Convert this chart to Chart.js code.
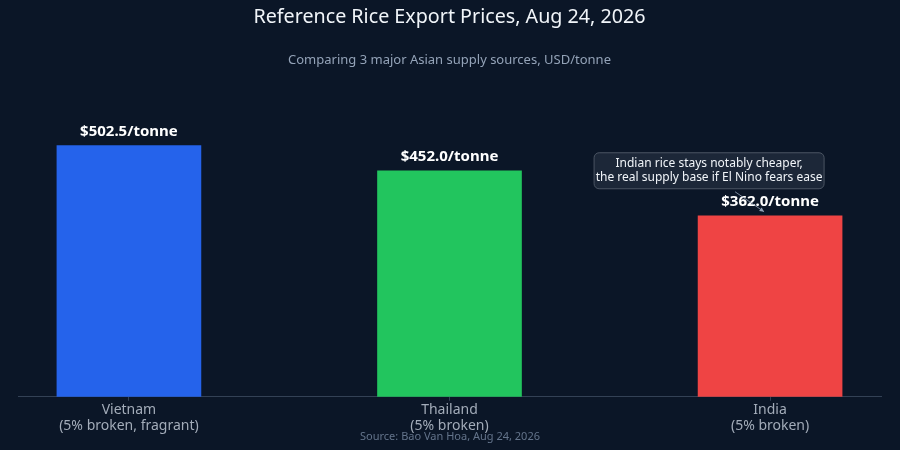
<!DOCTYPE html>
<html lang="en">
<head>
    <meta charset="utf-8">
    <title>Reference Rice Export Prices</title>
    <script src="https://cdn.jsdelivr.net/npm/chart.js@4.4.0/dist/chart.umd.min.js"></script>
    <style>
        html, body { margin: 0; padding: 0; background: #0b1627; }
        #wrap { width: 900px; height: 450px; }
    </style>
</head>
<body>
    <div id="wrap"><canvas id="chart" width="900" height="450"></canvas></div>
    <script>
        const origins = ['Vietnam', 'Thailand', 'India'];
        const grades = ['(5% broken, fragrant)', '(5% broken)', '(5% broken)'];
        const prices = [502.5, 452.0, 362.0];
        const barColors = ['#2563eb', '#22c55e', '#ef4444'];
        const noteLines = ['Indian rice stays notably cheaper,', 'the real supply base if El Nino fears ease'];
        const sourceText = 'Source: Bao Van Hoa, Aug 24, 2026';

        const FONT = "'Noto Sans', 'DejaVu Sans', sans-serif";

        // value labels + annotation + source line
        const extras = {
            id: 'extras',
            afterDatasetsDraw(chart) {
                const ctx = chart.ctx;
                const meta = chart.getDatasetMeta(0);
                ctx.save();
                ctx.fillStyle = '#ffffff';
                ctx.font = 'bold 15px ' + FONT;
                ctx.textAlign = 'center';
                ctx.textBaseline = 'middle';
                meta.data.forEach(function (bar, i) {
                    ctx.fillText('$' + prices[i].toFixed(1) + '/tonne', bar.x, bar.y - 14);
                });
                ctx.restore();
            },
            afterDraw(chart) {
                const ctx = chart.ctx;
                const bar = chart.getDatasetMeta(0).data[2];
                const cx = bar.x - 61, top = bar.y - 63, w = 230, h = 36;
                ctx.save();
                // arrow
                ctx.strokeStyle = '#94a3b8';
                ctx.fillStyle = '#94a3b8';
                ctx.lineWidth = 0.8;
                const ax0 = bar.x - 35, ay0 = top + h + 3, ax1 = bar.x - 6, ay1 = bar.y - 4;
                ctx.beginPath();
                ctx.moveTo(ax0, ay0);
                ctx.lineTo(ax1, ay1);
                ctx.stroke();
                const ang = Math.atan2(ay1 - ay0, ax1 - ax0);
                ctx.beginPath();
                ctx.moveTo(ax1, ay1);
                ctx.lineTo(ax1 - 5 * Math.cos(ang - 0.45), ay1 - 5 * Math.sin(ang - 0.45));
                ctx.lineTo(ax1 - 5 * Math.cos(ang + 0.45), ay1 - 5 * Math.sin(ang + 0.45));
                ctx.closePath();
                ctx.fill();
                // box
                ctx.fillStyle = '#1c2738';
                ctx.strokeStyle = '#4b5563';
                ctx.lineWidth = 1;
                ctx.beginPath();
                ctx.roundRect(cx - w / 2, top, w, h, 5);
                ctx.fill();
                ctx.stroke();
                ctx.fillStyle = '#f1f5f9';
                ctx.font = '12px ' + FONT;
                ctx.textAlign = 'center';
                ctx.textBaseline = 'middle';
                ctx.fillText(noteLines[0], cx, top + 11);
                ctx.fillText(noteLines[1], cx, top + 25);
                // source
                ctx.fillStyle = '#64748b';
                ctx.font = '11px ' + FONT;
                ctx.fillText(sourceText, 450, 437);
                ctx.restore();
            }
        };

        const ctx = document.getElementById('chart').getContext('2d');
        const myChart = new Chart(ctx, {
            type: 'bar',
            data: {
                datasets: [{
                    data: prices.map(function (p, i) { return { x: i, y: p }; }),
                    backgroundColor: barColors,
                    borderWidth: 0,
                    barThickness: 144
                }]
            },
            options: {
                responsive: false,
                animation: false,
                layout: { padding: { left: 18, right: 19, top: 0, bottom: 15 } },
                plugins: {
                    legend: { display: false },
                    tooltip: { enabled: false },
                    title: {
                        display: true,
                        text: 'Reference Rice Export Prices, Aug 24, 2026',
                        color: '#f1f5f9',
                        font: { family: FONT, size: 19.7, weight: 'normal' },
                        padding: { top: 6, bottom: 23 }
                    },
                    subtitle: {
                        display: true,
                        text: 'Comparing 3 major Asian supply sources, USD/tonne',
                        color: '#94a3b8',
                        font: { family: FONT, size: 13 },
                        padding: { top: 0, bottom: 31 }
                    }
                },
                scales: {
                    x: {
                        type: 'linear',
                        offset: false,
                        min: -0.346,
                        max: 2.346,
                        afterBuildTicks: function (axis) {
                            axis.ticks = origins.map(function (_, i) { return { value: i }; });
                        },
                        ticks: {
                            color: '#a3acb9',
                            padding: 1,
                            maxRotation: 0,
                            autoSkip: false,
                            font: { family: FONT, size: 14, lineHeight: 1.15 },
                            callback: function (v) { return [origins[v], grades[v]]; }
                        },
                        grid: { offset: false, drawOnChartArea: false, drawTicks: true, tickLength: 4, color: '#334155' },
                        border: { display: true, color: '#334155', width: 1 }
                    },
                    y: {
                        display: false,
                        min: 0,
                        max: 595
                    }
                }
            },
            plugins: [extras]
        });
    </script>
</body>
</html>
